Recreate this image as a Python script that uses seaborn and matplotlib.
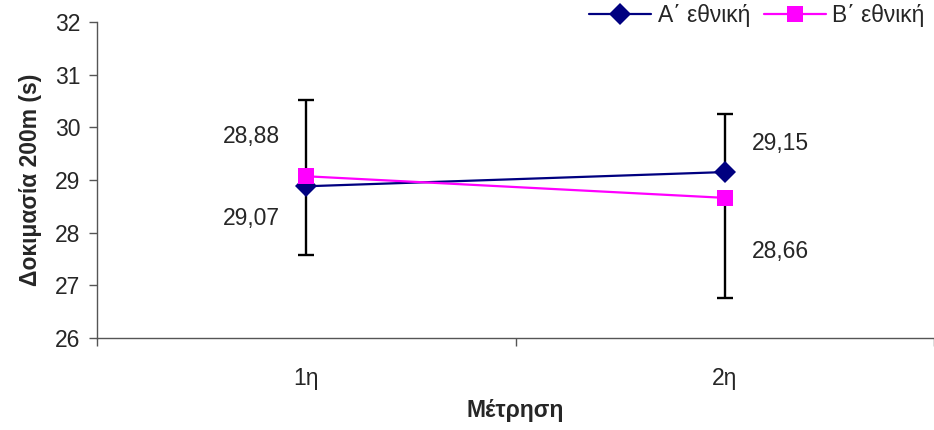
import numpy as np
import pandas as pd
import seaborn as sns
import matplotlib.pyplot as plt

# Data
measurements = ['1η', '2η']
series_a = [28.88, 29.15]          # Α΄ εθνική
series_b = [29.07, 28.66]          # Β΄ εθνική
err_a_up = [1.64, 1.10]            # plus error bars of Α΄ εθνική
err_b_down = [1.49, 1.90]          # minus error bars of Β΄ εθνική
label_a = ['28,88', '29,15']
label_b = ['29,07', '28,66']

sns.set_theme(style='white')
plt.rcParams['font.family'] = ['Liberation Sans', 'DejaVu Sans']

pos = np.arange(len(measurements)) + 0.5
df = pd.DataFrame({
    'pos': np.concatenate([pos, pos]),
    'value': series_a + series_b,
    'series': ['Α΄ εθνική'] * 2 + ['Β΄ εθνική'] * 2,
})

fig = plt.figure(figsize=(9.34, 4.30), dpi=100)
ax = fig.add_axes([0.104, 0.214, 0.896, 0.735])

# error bars first so the markers sit on top
ax.errorbar(pos, series_a, yerr=[np.zeros(2), err_a_up], fmt='none',
            ecolor='black', elinewidth=1.7, capsize=5.5, capthick=1.7, zorder=1)
ax.errorbar(pos, series_b, yerr=[err_b_down, np.zeros(2)], fmt='none',
            ecolor='black', elinewidth=1.7, capsize=5.5, capthick=1.7, zorder=1)

sns.lineplot(data=df, x='pos', y='value', hue='series', style='series',
             palette=['#000080', '#FF00FF'], markers=['D', 's'], dashes=False,
             markersize=11, markeredgewidth=0, linewidth=1.6, ax=ax, zorder=3)

# data labels (Excel-style placement, left of the first point, right of the second)
offs_a = [0.94, 0.55]
offs_b = [-0.81, -1.01]
for i, p in enumerate(pos):
    if i == 0:
        x, ha = p - 0.064, 'right'
    else:
        x, ha = p + 0.064, 'left'
    ax.text(x, series_a[i] + offs_a[i], label_a[i], fontsize=16.5, ha=ha, va='center')
    ax.text(x, series_b[i] + offs_b[i], label_b[i], fontsize=16.5, ha=ha, va='center')

ax.set_xlim(0, 1.98)
ax.set_ylim(26, 32)
ax.set_yticks(range(26, 33))
ax.set_xticks([0, 1, 2])
ax.set_xticklabels([])
ax.set_xticks(pos, minor=True)
ax.set_xticklabels(measurements, minor=True, fontsize=16.5)
ax.tick_params(axis='x', which='minor', bottom=False, length=0, pad=21)
ax.tick_params(axis='x', which='major', bottom=True, length=6, width=1,
               color='#555555', direction='out')
ax.tick_params(axis='y', left=True, length=6, width=1, color='#555555',
               direction='out', labelsize=16.5, pad=6)

for side in ['top', 'right']:
    ax.spines[side].set_visible(False)
for side in ['left', 'bottom']:
    ax.spines[side].set_color('#555555')
    ax.spines[side].set_linewidth(1)

ax.set_xlabel('Μέτρηση', fontsize=16.5, fontweight='bold', va='center')
ax.xaxis.set_label_coords(0.5, -0.228)
ax.set_ylabel('Δοκιμασία 200m (s)', fontsize=16.5, fontweight='bold', va='center')
ax.yaxis.set_label_coords(-0.08, 0.5)

ax.legend(title=None, loc='upper right', bbox_to_anchor=(1.0, 1.085), ncol=2,
          frameon=False, fontsize=16.5, handlelength=2.7, columnspacing=0.6,
          handletextpad=0.3, borderaxespad=0)

fig.savefig('out.png', dpi=100)
